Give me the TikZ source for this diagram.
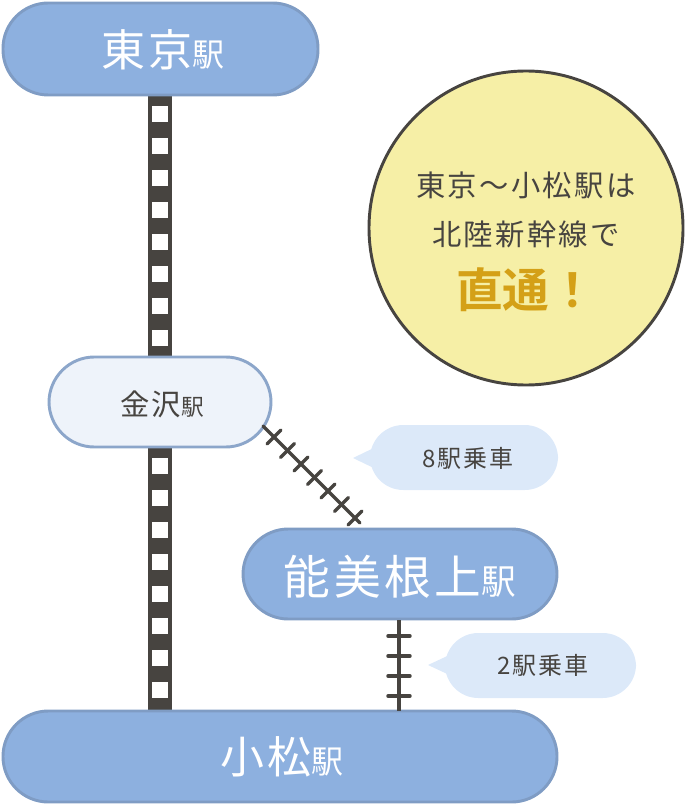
\documentclass[tikz,border=0pt]{standalone}
\usepackage{fontspec}
\setmainfont{Noto Sans CJK JP}[LetterSpace=8]
\newfontfamily\jpb{Noto Sans CJK JP Bold}
\definecolor{stblue}{HTML}{8DB0DF}
\definecolor{stedge}{HTML}{7F9CC4}
\definecolor{stlight}{HTML}{EEF3FA}
\definecolor{track}{HTML}{474440}
\definecolor{circ}{HTML}{F6EFA6}
\definecolor{bub}{HTML}{DCE9F9}
\definecolor{gold}{HTML}{D4A017}
\begin{document}
\begin{tikzpicture}[x=0.75pt,y=-0.75pt,
  station/.style={draw=stedge,line width=2.2pt,rounded corners=34pt},
  tie/.style={track,line width=2.6pt,line cap=round},
  bubble/.style={fill=bub,rounded corners=25pt}]
\useasboundingbox (0,0) rectangle (684,805);
% tracks
\fill[track] (148,96) rectangle (172,356);
\foreach \y in {106,138,...,340} \fill[white] (152,\y) rectangle (168,\y+16);
\fill[track] (148,448) rectangle (172,711);
\foreach \y in {458,490,...,700} \fill[white] (152,\y) rectangle (168,\y+16);
% stations
\draw[station,fill=stblue] (3,3) rectangle (318,95);
\node (tokyo) at (163,50) {\color{white}\fontsize{33}{33}\selectfont 東京\fontsize{24}{24}\selectfont 駅};
\draw[station,fill=stlight,draw=stedge!90] (49,357) rectangle (271,447);
\node (kanazawa) at (162,404) {\color{track}\fontsize{22}{22}\selectfont 金沢\fontsize{17}{17}\selectfont 駅};
\draw[station,fill=stblue] (243,529) rectangle (557,619);
\node (nomi) at (400,577) {\color{white}\fontsize{35}{35}\selectfont 能美根上\fontsize{26}{26}\selectfont 駅};
\draw[station,fill=stblue] (3,711) rectangle (557,802);
\node (komatsu) at (282,757) {\color{white}\fontsize{33}{33}\selectfont 小松\fontsize{24}{24}\selectfont 駅};
% diagonal line
\coordinate (d1) at (263,426);
\coordinate (d2) at (360,523);
\draw[tie] (d1) -- (d2);
\foreach \i in {0,...,6} {
  \pgfmathsetmacro\cx{274+13.5*\i}
  \pgfmathsetmacro\cy{437+13.5*\i}
  \draw[tie] (\cx+7,\cy-7) -- (\cx-7,\cy+7);
}
% vertical short line
\coordinate (v1) at (399,620);
\coordinate (v2) at (399,711);
\draw[track,line width=3pt] (v1) -- (v2);
\foreach \y in {636,656,676,696} \draw[tie] (388,\y) -- (410,\y);
% bubbles
\fill[bubble] (370,425) rectangle (558,490);
\fill[bub] (353,458) -- (382,444) -- (382,472) -- cycle;
\node (b8) at (468,458) {\color{track}\fontsize{18}{18}\selectfont 8駅乗車};
\fill[bubble] (445,633) rectangle (636,698);
\fill[bub] (428,665) -- (458,651) -- (458,679) -- cycle;
\node (b2) at (543,665) {\color{track}\fontsize{18}{18}\selectfont 2駅乗車};
% circle
\draw[fill=circ,draw=track,line width=2.2pt] (526,228) circle (157);
\node[text=track] (msg1) at (526,185) {\fontsize{22}{22}\selectfont 東京〜小松駅は};
\node[text=track] (msg2) at (526,234) {\fontsize{22}{22}\selectfont 北陸新幹線で};
\node (chok) at (526,290) {\color{gold}\jpb\fontsize{35}{35}\selectfont 直通！};
\end{tikzpicture}
\end{document}
